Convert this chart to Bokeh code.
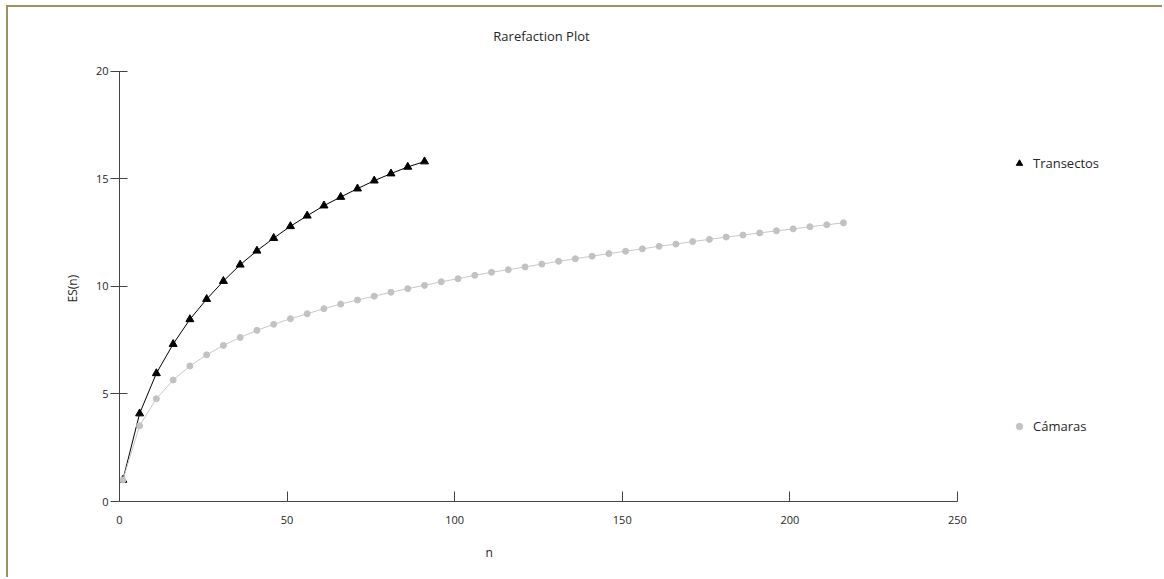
from bokeh.plotting import figure
from bokeh.models import Range1d, Legend, LegendItem, FixedTicker, Title, Label
from bokeh.embed import file_html
from bokeh.resources import INLINE

# Rarefaction curves: expected species ES(n) against sample size n
transectos_n = [1, 6, 11, 16, 21, 26, 31, 36, 41, 46, 51, 56, 61, 66, 71, 76, 81, 86, 91]
transectos_es = [1.0, 4.09, 5.96, 7.32, 8.47, 9.41, 10.25, 11.01, 11.66, 12.25,
                 12.80, 13.29, 13.76, 14.16, 14.55, 14.92, 15.25, 15.56, 15.81]

camaras_n = [1, 6, 11, 16, 21, 26, 31, 36, 41, 46, 51, 56, 61, 66, 71, 76, 81, 86, 91, 96,
             101, 106, 111, 116, 121, 126, 131, 136, 141, 146, 151, 156, 161, 166, 171, 176,
             181, 186, 191, 196, 201, 206, 211, 216]
camaras_es = [1.0, 3.52, 4.78, 5.65, 6.30, 6.82, 7.26, 7.63, 7.96, 8.24, 8.50, 8.73, 8.97,
              9.18, 9.37, 9.55, 9.73, 9.90, 10.05, 10.22, 10.36, 10.52, 10.66, 10.78, 10.91,
              11.04, 11.17, 11.29, 11.41, 11.53, 11.64, 11.75, 11.87, 11.97, 12.09, 12.19,
              12.30, 12.39, 12.49, 12.59, 12.68, 12.78, 12.87, 12.96]

x_ticks = [0, 50, 100, 150, 200, 250]
y_ticks = [0, 5, 10, 15, 20]

FONT = "Open Sans"
TEXT = "#262626"
AXIS = "#444444"
BORDER = "#9c9260"

# the plotting area runs on to the right (for the legend) and upward (for the title);
# both axes are bounded to their own value spans
p = figure(
    width=1156, height=572,
    x_range=Range1d(0, 307.6), y_range=Range1d(0, 22.37),
    output_backend="svg", toolbar_location=None, title_location=None,
    min_border_left=111, min_border_right=14,
    min_border_top=13, min_border_bottom=78,
    background_fill_color="white", border_fill_color="white",
    styles={"margin-left": "6px", "margin-top": "5px",
            "border-left": "2px solid " + BORDER, "border-top": "2px solid " + BORDER},
)
p.outline_line_color = None
p.xgrid.visible = False
p.ygrid.visible = False

# axes
p.xaxis.ticker = FixedTicker(ticks=x_ticks)
p.yaxis.ticker = FixedTicker(ticks=y_ticks)
p.xaxis.bounds = (0, 250)
p.yaxis.bounds = (0, 20)
for ax in (p.xaxis[0], p.yaxis[0]):
    ax.axis_line_color = AXIS
    ax.major_tick_line_color = AXIS
    ax.minor_tick_line_color = None
    ax.major_label_text_font = FONT
    ax.major_label_text_font_size = "11px"
    ax.major_label_text_color = TEXT

p.xaxis.major_tick_in = 10
p.xaxis.major_tick_out = 0
p.xaxis.major_label_standoff = 14

p.yaxis.major_tick_in = 8
p.yaxis.major_tick_out = 9
p.yaxis.major_label_standoff = 2

# chart title, above the top of the y axis
p.add_layout(Label(x=125.9, y=21.63, text="Rarefaction Plot", text_align="center",
                   text_baseline="middle", text_font=FONT, text_font_size="13px",
                   text_color=TEXT))

# axis labels as side titles so they can be placed along the axes
p.add_layout(Title(text="n", align="left", offset=366, standoff=31,
                   text_font=FONT, text_font_size="12px", text_font_style="normal",
                   text_color=TEXT), "below")
p.add_layout(Title(text="ES(n)", align="left", offset=199, standoff=24,
                   text_font=FONT, text_font_size="12px", text_font_style="normal",
                   text_color=TEXT), "left")

# series
tri_line = p.line(transectos_n, transectos_es, line_color="black", line_width=1)
tri_pts = p.scatter(transectos_n, transectos_es, marker="triangle", size=8,
                    fill_color="black", line_color="black")
cam_line = p.line(camaras_n, camaras_es, line_color="#c8c8c8", line_width=1)
cam_pts = p.scatter(camaras_n, camaras_es, marker="circle", size=6,
                    fill_color="#c2c2c2", line_color="#c2c2c2")

# legend to the right of the curves, entries spread apart
legend = Legend(
    items=[LegendItem(label="Transectos", renderers=[tri_pts]),
           LegendItem(label="Cámaras", renderers=[cam_pts])],
    location=(892, 66), orientation="vertical", spacing=245,
    padding=0, margin=0, border_line_color=None, background_fill_alpha=0,
    glyph_width=16, glyph_height=16, label_height=16, label_standoff=6,
    label_text_font=FONT, label_text_font_size="13px", label_text_color=TEXT,
)
p.add_layout(legend, "center")

open("out.html", "w").write(file_html(p, INLINE))
